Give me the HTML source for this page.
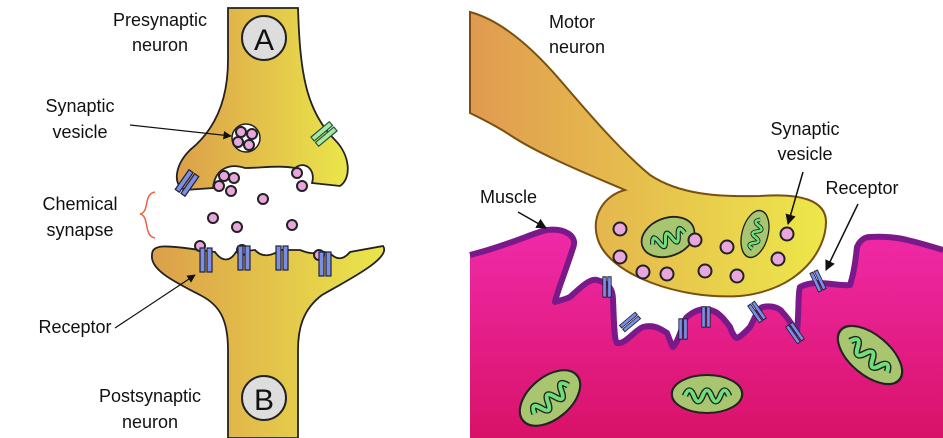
<!DOCTYPE html>
<html><head><meta charset="utf-8"><style>
html,body{margin:0;padding:0;background:#fff;}
svg{display:block;}
text{font-family:"Liberation Sans",sans-serif;font-size:18px;fill:#111;}
</style></head><body>
<svg width="943" height="438" viewBox="0 0 943 438" xmlns="http://www.w3.org/2000/svg">
<defs>
<linearGradient id="yl" x1="0" x2="1" y1="0" y2="0"><stop offset="0" stop-color="#dc9f4a"/><stop offset="1" stop-color="#eae64a"/></linearGradient>
<linearGradient id="yr" x1="0" x2="1" y1="0" y2="0"><stop offset="0" stop-color="#e09a50"/><stop offset="1" stop-color="#ede84a"/></linearGradient>
<linearGradient id="mg" x1="0" x2="0" y1="0" y2="1"><stop offset="0" stop-color="#f02aa8"/><stop offset="1" stop-color="#d81268"/></linearGradient>
<marker id="ar" viewBox="0 0 10 10" refX="9" refY="5" markerWidth="7" markerHeight="7" orient="auto"><path d="M0,0 L10,5 L0,10 z" fill="#111"/></marker>
<g id="vs"><circle r="5" fill="#e8a6dc" stroke="#222" stroke-width="2"/></g>
<g id="vb"><circle r="6.5" fill="#e8a6dc" stroke="#222" stroke-width="2"/></g>
<g id="rc"><rect x="-6" y="-12" width="5" height="24" fill="#7a8ee8" stroke="#223" stroke-width="1.2"/><rect x="1" y="-12" width="5" height="24" fill="#7a8ee8" stroke="#223" stroke-width="1.2"/></g>
<g id="rg"><rect x="-6" y="-12" width="5" height="24" fill="#a8e8a8" stroke="#253" stroke-width="1.2"/><rect x="1" y="-12" width="5" height="24" fill="#a8e8a8" stroke="#253" stroke-width="1.2"/></g>
<g id="mito"><ellipse rx="32" ry="20" fill="#a8c670" stroke="#222" stroke-width="2"/><path d="M-20,2 q4,-12 8,0 t8,0 t8,0 t8,0 t8,0" fill="none" stroke="#222" stroke-width="6"/><path d="M-20,2 q4,-12 8,0 t8,0 t8,0 t8,0 t8,0" fill="none" stroke="#6ee07a" stroke-width="3.5"/></g>
</defs>

<!-- LEFT PANEL -->
<path d="M228,8 L298,8 C300,70 305,110 335,140 C350,155 352,178 340,186 L312,183 C316,170 305,160 295,168 C280,165 260,168 245,168 C230,163 215,168 213,188 L185,190 C172,185 175,165 190,150 C215,130 228,100 228,60 Z" fill="url(#yl)" stroke="#222" stroke-width="1.8"/>
<path d="M152,255 C152,244 165,245 200,250 L215,252 C222,262 230,262 236,252 L255,250 C262,258 272,256 280,250 L300,250 C310,254 315,254 318,251 L330,253 C338,262 345,258 350,252 L383,246 C392,258 348,280 322,295 C302,310 298,330 298,350 L298,438 L228,438 L228,350 C228,320 220,305 200,295 C175,282 150,270 152,255 Z" fill="url(#yl)" stroke="#222" stroke-width="1.8"/>
<circle cx="264" cy="38" r="22" fill="#ddd" stroke="#222" stroke-width="2"/>
<text x="264" y="50" text-anchor="middle" style="font-size:30px">A</text>
<circle cx="264" cy="398" r="22" fill="#ddd" stroke="#222" stroke-width="2"/>
<text x="264" y="410" text-anchor="middle" style="font-size:30px">B</text>
<circle cx="246" cy="138" r="14" fill="#fff" stroke="#222" stroke-width="1.5"/>
<use href="#vs" x="241" y="132"/><use href="#vs" x="252" y="134"/><use href="#vs" x="238" y="142"/><use href="#vs" x="249" y="145"/>
<use href="#vs" x="224" y="176"/><use href="#vs" x="234" y="178"/><use href="#vs" x="219" y="186"/><use href="#vs" x="231" y="191"/>
<use href="#vs" x="297" y="173"/><use href="#vs" x="302" y="186"/><use href="#vs" x="263" y="199"/>
<use href="#vs" x="213" y="218"/><use href="#vs" x="237" y="227"/><use href="#vs" x="292" y="225"/><use href="#vs" x="200" y="246"/><use href="#vs" x="242" y="250"/><use href="#vs" x="319" y="255"/>
<use href="#rc" transform="translate(187,183) rotate(35)"/>
<use href="#rg" transform="translate(324,134) rotate(50)"/>
<use href="#rc" x="206" y="260"/><use href="#rc" x="244" y="258"/><use href="#rc" x="282" y="258"/><use href="#rc" x="325" y="264"/>
<path d="M155,192 C143,194 150,212 140,214 C150,216 143,236 155,238" fill="none" stroke="#f06040" stroke-width="1.5"/>
<text x="160" y="26" text-anchor="middle">Presynaptic</text><text x="160" y="51" text-anchor="middle">neuron</text>
<text x="80" y="112" text-anchor="middle">Synaptic</text><text x="80" y="138" text-anchor="middle">vesicle</text>
<line x1="130" y1="125" x2="231" y2="136" stroke="#111" stroke-width="1.2" marker-end="url(#ar)"/>
<text x="80" y="210" text-anchor="middle">Chemical</text><text x="80" y="236" text-anchor="middle">synapse</text>
<text x="75" y="333" text-anchor="middle">Receptor</text>
<line x1="115" y1="328" x2="195" y2="275" stroke="#111" stroke-width="1.2" marker-end="url(#ar)"/>
<text x="150" y="402" text-anchor="middle">Postsynaptic</text><text x="150" y="428" text-anchor="middle">neuron</text>

<!-- RIGHT PANEL -->
<path id="mtop" d="M470,255 C510,245 535,232 547,230 C565,228 578,236 573,248 C566,270 556,295 555,302 C562,300 568,298 570,297 C580,288 590,278 597,280 C608,283 613,288 613,300 C614,320 614,340 617,343 C625,345 635,330 643,327 C655,324 662,330 667,333 C670,340 672,347 673,347 C680,340 683,320 687,317 C695,310 703,308 710,310 C720,312 726,322 730,327 C732,333 735,338 737,338 C742,336 747,330 750,327 C755,318 758,308 763,307 C772,305 780,308 783,313 C790,320 795,330 797,333 C799,310 798,292 800,287 C808,283 815,283 820,283 C835,284 845,286 850,285 C855,270 856,255 857,247 C860,240 865,237 870,237 C885,236 900,238 907,240 C920,243 930,246 943,250" fill="none"/>
<path d="M470,255 C510,245 535,232 547,230 C565,228 578,236 573,248 C566,270 556,295 555,302 C562,300 568,298 570,297 C580,288 590,278 597,280 C608,283 613,288 613,300 C614,320 614,340 617,343 C625,345 635,330 643,327 C655,324 662,330 667,333 C670,340 672,347 673,347 C680,340 683,320 687,317 C695,310 703,308 710,310 C720,312 726,322 730,327 C732,333 735,338 737,338 C742,336 747,330 750,327 C755,318 758,308 763,307 C772,305 780,308 783,313 C790,320 795,330 797,333 C799,310 798,292 800,287 C808,283 815,283 820,283 C835,284 845,286 850,285 C855,270 856,255 857,247 C860,240 865,237 870,237 C885,236 900,238 907,240 C920,243 930,246 943,250 L943,438 L470,438 Z" fill="url(#mg)"/>
<use href="#mtop" stroke="#7a1a8a" stroke-width="6" stroke-linejoin="round"/>
<path d="M470,12 C500,20 530,45 560,80 C590,115 620,150 650,175 C680,195 720,197 760,196 C800,193 826,200 826,222 C826,250 800,290 740,296 C680,300 610,275 598,240 C590,215 605,195 625,190 C590,175 540,155 510,135 C495,125 480,118 470,113 Z" fill="url(#yr)" stroke="#7a5010" stroke-width="2"/>
<use href="#mito" transform="translate(668,237) rotate(-20) scale(0.85,0.95)"/>
<use href="#mito" transform="translate(755,234) rotate(-75) scale(0.75,0.65)"/>
<use href="#vb" x="620" y="229"/><use href="#vb" x="620" y="257"/><use href="#vb" x="643" y="272"/><use href="#vb" x="667" y="274"/><use href="#vb" x="695" y="240"/><use href="#vb" x="727" y="247"/><use href="#vb" x="705" y="271"/><use href="#vb" x="737" y="276"/><use href="#vb" x="787" y="234"/><use href="#vb" x="778" y="259"/>
<use href="#rc" transform="translate(607,287) scale(0.7,0.85)"/>
<use href="#rc" transform="translate(630,322) rotate(50) scale(0.7,0.85)"/>
<use href="#rc" transform="translate(683,329) scale(0.7,0.85)"/>
<use href="#rc" transform="translate(706,317) scale(0.7,0.85)"/>
<use href="#rc" transform="translate(757,312) rotate(-35) scale(0.7,0.85)"/>
<use href="#rc" transform="translate(795,333) rotate(-35) scale(0.7,0.85)"/>
<use href="#rc" transform="translate(818,281) rotate(-25) scale(0.7,0.85)"/>
<use href="#mito" transform="translate(550,398) rotate(-40) scale(1.1,1.05)"/>
<use href="#mito" transform="translate(707,394) scale(1.1,0.95)"/>
<use href="#mito" transform="translate(870,355) rotate(40) scale(1.2,1)"/>
<text x="549" y="28">Motor</text><text x="549" y="53">neuron</text>
<text x="805" y="135" text-anchor="middle">Synaptic</text><text x="805" y="160" text-anchor="middle">vesicle</text>
<line x1="803" y1="172" x2="788" y2="224" stroke="#111" stroke-width="1.5" marker-end="url(#ar)"/>
<text x="862" y="194" text-anchor="middle">Receptor</text>
<line x1="858" y1="204" x2="826" y2="270" stroke="#111" stroke-width="1.5" marker-end="url(#ar)"/>
<text x="480" y="203">Muscle</text>
<line x1="518" y1="212" x2="546" y2="228" stroke="#111" stroke-width="1.5" marker-end="url(#ar)"/>
</svg>
</body></html>
